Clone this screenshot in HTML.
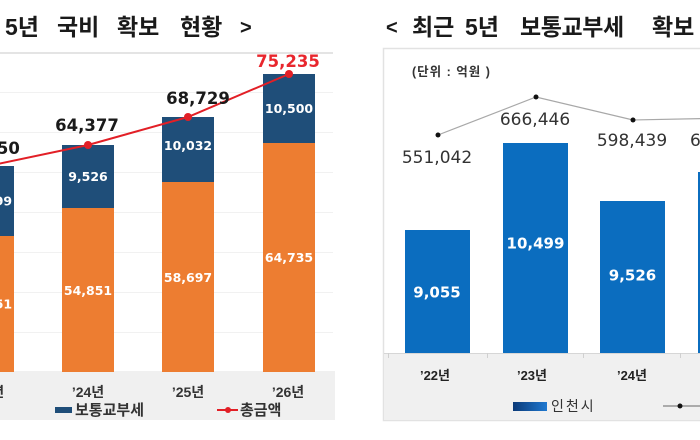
<!DOCTYPE html>
<html><head><meta charset="utf-8"><style>
html,body{margin:0;padding:0;background:#fff;}
svg{display:block;}
.kr{font-family:"Liberation Sans","Noto Sans CJK KR",sans-serif;}
.num{font-family:"DejaVu Sans","Liberation Sans",sans-serif;}
</style></head><body>
<svg width="700" height="440" viewBox="0 0 700 440" xmlns="http://www.w3.org/2000/svg">
<defs>
<linearGradient id="lg" x1="0" x2="1" y1="0" y2="0"><stop offset="0" stop-color="#0b3a78"/><stop offset="1" stop-color="#1f78d0"/></linearGradient>
</defs>
<rect width="700" height="440" fill="#fff"/>
<!-- LEFT TITLE -->
<g class="kr" font-weight="700" font-size="23" fill="#1a1a1a">
<text x="5" y="35">5년</text>
<text x="57" y="35">국비</text>
<text x="117" y="35">확보</text>
<text x="180" y="35">현황</text>
<text x="240" y="34" font-size="20">&gt;</text>
</g>
<line x1="0" y1="53" x2="333" y2="53" stroke="#e4e4e4" stroke-width="2"/>
<!-- grid -->
<g stroke="#f1f1f1" stroke-width="1">
<line x1="0" y1="92.5" x2="333" y2="92.5"/><line x1="0" y1="132.5" x2="333" y2="132.5"/>
<line x1="0" y1="172.5" x2="333" y2="172.5"/><line x1="0" y1="212.5" x2="333" y2="212.5"/>
<line x1="0" y1="252.5" x2="333" y2="252.5"/><line x1="0" y1="292.5" x2="333" y2="292.5"/>
<line x1="0" y1="332.5" x2="333" y2="332.5"/>
</g>
<rect x="0" y="371" width="335" height="49" fill="#f0f0f0"/>
<!-- left bars -->
<g>
<rect x="-38" y="166" width="52" height="70" fill="#1f4e79"/><rect x="-38" y="236" width="52" height="136" fill="#ed7d31"/>
<rect x="62" y="145" width="52" height="63" fill="#1f4e79"/><rect x="62" y="208" width="52" height="164" fill="#ed7d31"/>
<rect x="162" y="117" width="52" height="65" fill="#1f4e79"/><rect x="162" y="182" width="52" height="190" fill="#ed7d31"/>
<rect x="263" y="74" width="52" height="69" fill="#1f4e79"/><rect x="263" y="143" width="52" height="229" fill="#ed7d31"/>
</g>
<g class="num" font-weight="700" font-size="12.5" fill="#fff" text-anchor="middle">
<text x="-12" y="205.5">10,499</text>
<text x="88" y="181">9,526</text>
<text x="188" y="150">10,032</text>
<text x="289" y="113">10,500</text>
<text x="-12" y="308.5">50,851</text>
<text x="88" y="295">54,851</text>
<text x="188" y="282">58,697</text>
<text x="289" y="262">64,735</text>
</g>
<polyline points="-12,166 88,145 188,117 289,74" fill="none" stroke="#e21f26" stroke-width="2"/>
<g fill="#e21f26"><circle cx="88" cy="145" r="4"/><circle cx="188" cy="117" r="4"/><circle cx="289" cy="74" r="4"/></g>
<g class="num" font-weight="700" font-size="16.5" fill="#1a1a1a" text-anchor="middle">
<text x="-12" y="154">61,350</text>
<text x="87" y="131">64,377</text>
<text x="198" y="104">68,729</text>
<text x="288" y="67" fill="#e8262d">75,235</text>
</g>
<g class="kr" font-weight="700" font-size="14" fill="#333" text-anchor="middle">
<text x="-12" y="397">’23년</text>
<text x="88" y="397">’24년</text>
<text x="188" y="397">’25년</text>
<text x="288" y="397">’26년</text>
</g>
<rect x="55" y="407" width="17" height="6" fill="#1f4e79"/>
<text class="kr" x="75" y="415" font-size="15" font-weight="700" fill="#333">보통교부세</text>
<line x1="217" y1="410" x2="238" y2="410" stroke="#e21f26" stroke-width="2"/>
<circle cx="228" cy="410" r="3" fill="#e21f26"/>
<text class="kr" x="240" y="415" font-size="15" font-weight="700" fill="#333">총금액</text>

<!-- RIGHT -->
<g class="kr" font-weight="700" font-size="23" fill="#1a1a1a">
<text x="386" y="34" font-size="20">&lt;</text>
<text x="412" y="35">최근</text>
<text x="465" y="35">5년</text>
<text x="520" y="35" letter-spacing="-0.4">보통교부세</text>
<text x="652" y="35">확보</text>
</g>
<rect x="383.5" y="48.5" width="330" height="372" fill="#fff" stroke="#e2e2e2" stroke-width="1.5"/>
<rect x="384" y="353" width="316" height="67" fill="#f0f0f0"/>
<line x1="384" y1="353.5" x2="700" y2="353.5" stroke="#d6d6d6"/>
<g stroke="#d0d0d0"><line x1="388.5" y1="353" x2="388.5" y2="358"/><line x1="487.5" y1="353" x2="487.5" y2="358"/><line x1="583.5" y1="353" x2="583.5" y2="358"/><line x1="680.5" y1="353" x2="680.5" y2="358"/></g>
<text class="kr" x="412" y="76" font-size="12.5" font-weight="700" fill="#333" letter-spacing="1">(단위 : 억원 )</text>
<g fill="#0b6dbf">
<rect x="405" y="230" width="65" height="123"/>
<rect x="503" y="143" width="65" height="210"/>
<rect x="600" y="201" width="65" height="152"/>
<rect x="698" y="172" width="65" height="181"/>
</g>
<g class="num" font-weight="700" font-size="15" fill="#fff" text-anchor="middle">
<text x="437" y="297.5">9,055</text>
<text x="535.5" y="248.5">10,499</text>
<text x="632.5" y="280.5">9,526</text>
</g>
<polyline points="438,135 536,97 633,120 730,118" fill="none" stroke="#a8a8a8" stroke-width="1.2"/>
<g fill="#111"><circle cx="438" cy="135" r="2.5"/><circle cx="536" cy="97" r="2.5"/><circle cx="633" cy="120" r="2.5"/></g>
<g class="num" font-size="17" fill="#333" text-anchor="middle">
<text x="437" y="163">551,042</text>
<text x="535" y="125">666,446</text>
<text x="632" y="146">598,439</text>
<text x="690" y="146" text-anchor="start">649,301</text>
</g>
<g class="kr" font-weight="700" font-size="13" fill="#222" text-anchor="middle">
<text x="435" y="380">’22년</text>
<text x="532" y="380">’23년</text>
<text x="632" y="380">’24년</text>
</g>
<rect x="513" y="402" width="34" height="9" fill="url(#lg)"/>
<text class="kr" x="551" y="411" font-size="14" fill="#333" letter-spacing="2">인천시</text>
<line x1="663" y1="406" x2="700" y2="406" stroke="#666" stroke-width="1"/>
<circle cx="680" cy="406" r="2.5" fill="#111"/>
</svg>
</body></html>
